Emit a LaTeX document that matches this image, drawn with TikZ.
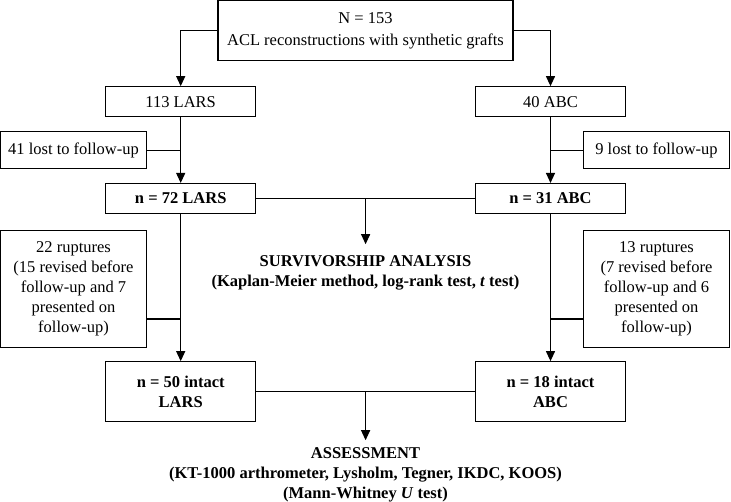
\documentclass[tikz,border=0pt]{standalone}
\usepackage{fontspec}
\setmainfont{Liberation Serif}
\usetikzlibrary{arrows.meta}

\begin{document}
\begin{tikzpicture}[x=1pt,y=1pt]
	\useasboundingbox (0,0) rectangle (731,-501);
	\tikzstyle{every node}=[font=\fontsize{16.5}{20}\selectfont]
	\tikzstyle{Box}=[draw,line width=1.1pt,align=center,inner sep=0pt]
	\tikzstyle{Arm}=[Box,minimum width=150,minimum height=30]
	\tikzstyle{Side}=[Box,minimum width=146]
	\tikzstyle{Link}=[line width=1.1pt]
	\tikzstyle{Flow}=[Link,-{Triangle[length=10pt,width=9pt]}]
	% entry
	\node[Box,minimum width=295,minimum height=60] (all) at (365.5,-30.5)
		{N = 153\\[2pt]ACL reconstructions with synthetic grafts};
	% two arms
	\node[Arm] (lars) at (180.7,-101.7) {113 LARS};
	\node[Arm] (abc) at (550.5,-101.7) {40 ABC};
	\node[Side,minimum height=37] (lostL) at (73.5,-150.3) {41 lost to follow-up};
	\node[Side,minimum height=37] (lostA) at (656.5,-150.3) {9 lost to follow-up};
	\node[Arm] (larsF) at (180.7,-198.5) {\textbf{n = 72 LARS}};
	\node[Arm] (abcF) at (550.5,-198.5) {\textbf{n = 31 ABC}};
	\node[align=center] (surv) at (365.5,-273)
		{\textbf{SURVIVORSHIP ANALYSIS}\\\textbf{(Kaplan-Meier method, log-rank test, \textit{t} test)}};
	\node[Side,minimum height=117] (rupL) at (73.5,-289)
		{22 ruptures\\(15 revised before\\follow-up and 7\\presented on\\follow-up)};
	\node[Side,minimum height=117] (rupA) at (656.5,-289)
		{13 ruptures\\(7 revised before\\follow-up and 6\\presented on\\follow-up)};
	\node[Arm,minimum height=60] (larsI) at (180.7,-391.7) {\textbf{n = 50 intact}\\\textbf{LARS}};
	\node[Arm,minimum height=60] (abcI) at (550.5,-391.7) {\textbf{n = 18 intact}\\\textbf{ABC}};
	\node[align=center] (assess) at (365.5,-475)
		{\textbf{ASSESSMENT}\\\textbf{(KT-1000 arthrometer, Lysholm, Tegner, IKDC, KOOS)}\\\textbf{(Mann-Whitney \textit{U} test)}};
	% connectors
	\draw[Flow] (all.west) -| (lars.north);
	\draw[Flow] (all.east) -| (abc.north);
	\draw[Flow] (lars.south) -- (larsF.north);
	\draw[Flow] (abc.south) -- (abcF.north);
	\draw[Link] (lostL.east) -- (lostL.east -| lars.south);
	\draw[Link] (lostA.west) -- (lostA.west -| abc.south);
	\draw[Link] (larsF.east) -- coordinate (midF) (abcF.west);
	\draw[Flow,shorten >=8pt] (midF) -- (midF |- surv.north);
	\draw[Flow] (larsF.south) -- (larsI.north);
	\draw[Flow] (abcF.south) -- (abcI.north);
	\coordinate (rL) at ([yshift=-30pt]rupL.east);
	\coordinate (rA) at ([yshift=-30pt]rupA.west);
	\draw[Link] (rL) -- (rL -| larsF.south);
	\draw[Link] (rA) -- (rA -| abcF.south);
	\draw[Link] (larsI.east) -- coordinate (midI) (abcI.west);
	\draw[Flow,shorten >=4pt] (midI) -- (midI |- assess.north);
\end{tikzpicture}
\end{document}
